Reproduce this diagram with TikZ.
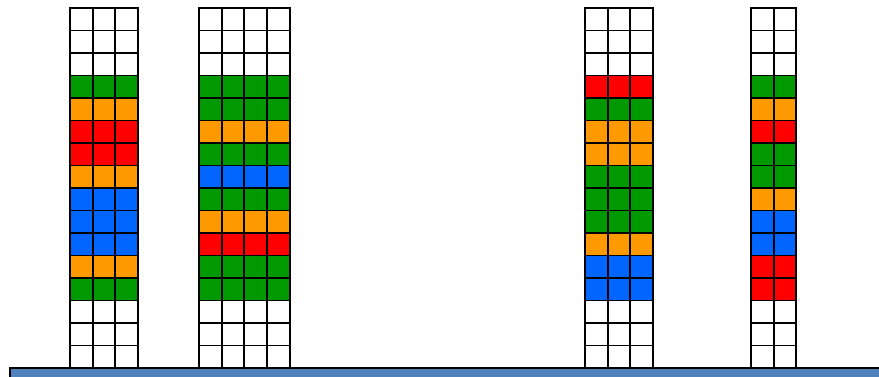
\documentclass[tikz,border=0pt]{standalone}
\usepackage{tikz}
\definecolor{W}{RGB}{255,255,255}
\definecolor{G}{RGB}{0,153,0}
\definecolor{O}{RGB}{255,153,0}
\definecolor{R}{RGB}{255,0,0}
\definecolor{B}{RGB}{0,102,255}
\definecolor{floorblue}{RGB}{79,129,189}
% one stack: left edge, number of columns, colours from top to bottom
\newcommand{\stack}[3]{%
  \foreach \c [count=\r from 0] in {#3} {
    \foreach \k in {1,...,#2} {
      \draw[cell, fill=\c] ({#1+(\k-1)*22.7},{8+\r*22.5}) rectangle ++(22.7,22.5);
    }
  }
}
\begin{document}
\begin{tikzpicture}[
  x=0.02cm, y=-0.02cm,
  cell/.style={draw=black, line width=1.1pt},
  floor/.style={draw=black, line width=1.3pt, fill=floorblue}
]
  \useasboundingbox (0,0) rectangle (879,376);
  \clip (0,0) rectangle (879,376);

  \stack{70}{3}{W,W,W,G,O,R,R,O,B,B,B,O,G,W,W,W}
  \stack{199}{4}{W,W,W,G,G,O,G,B,G,O,R,G,G,W,W,W}
  \stack{585}{3}{W,W,W,R,G,O,O,G,G,G,O,B,B,W,W,W}
  \stack{751}{2}{W,W,W,G,O,R,G,G,O,B,B,R,R,W,W,W}

  \draw[floor] (10,368) rectangle (900,390);
\end{tikzpicture}
\end{document}
